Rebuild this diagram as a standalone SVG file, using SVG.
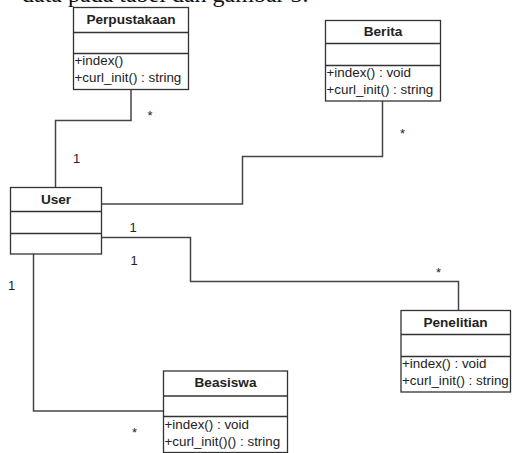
<svg xmlns="http://www.w3.org/2000/svg" width="512" height="453" viewBox="0 0 512 453">
<style>
.box{fill:#fff;stroke:#333;stroke-width:1.3}
.div{stroke:#333;stroke-width:1.3}
.title{font-family:"Liberation Sans",Arial,sans-serif;font-size:13.6px;font-weight:bold;fill:#222;text-anchor:middle}
.m{font-family:"Liberation Sans",Arial,sans-serif;font-size:13.4px;fill:#222}
.lbl{font-family:"Liberation Sans",Arial,sans-serif;font-size:13px;fill:#222;text-anchor:middle}
.conn{fill:none;stroke:#444;stroke-width:1.5}
.cap{font-family:"Liberation Serif","Times New Roman",serif;font-size:24px;fill:#111}
</style>
<rect width="512" height="453" fill="#fff"/>
<text class="cap" x="22" y="1.5">data pada tabel dan gambar 3.</text>
<g id="connectors">
<path class="conn" d="M131,89.5 V120.5 H55.5 V187.5"/>
<path class="conn" d="M382.5,101 V156.5 H242.5 V204 H101.5"/>
<path class="conn" d="M101.5,237.5 H190.5 V281.5 H458.5 V310.5"/>
<path class="conn" d="M33.5,254 V411 H163.5"/>
<text class="lbl" x="150" y="120">*</text>
<text class="lbl" x="76.5" y="163">1</text>
<text class="lbl" x="402.5" y="138">*</text>
<text class="lbl" x="133" y="231.5">1</text>
<text class="lbl" x="134" y="265">1</text>
<text class="lbl" x="438.5" y="276.5">*</text>
<text class="lbl" x="11.5" y="290">1</text>
<text class="lbl" x="134.5" y="437">*</text>
</g>
<g id="perpustakaan">
<rect class="box" x="73.5" y="7.5" width="115" height="82"/>
<line class="div" x1="73.5" y1="32.5" x2="188.5" y2="32.5"/>
<line class="div" x1="73.5" y1="53.5" x2="188.5" y2="53.5"/>
<text class="title" x="131" y="23.5">Perpustakaan</text>
<text class="m" x="74.5" y="65">+index()</text>
<text class="m" x="74.5" y="82">+curl_init() : string</text>
</g>
<g id="berita">
<rect class="box" x="325.5" y="20.5" width="115" height="80.5"/>
<line class="div" x1="325.5" y1="43.5" x2="440.5" y2="43.5"/>
<line class="div" x1="325.5" y1="65.5" x2="440.5" y2="65.5"/>
<text class="title" x="383" y="36">Berita</text>
<text class="m" x="326.5" y="77">+index() : void</text>
<text class="m" x="326.5" y="94">+curl_init() : string</text>
</g>
<g id="user">
<rect class="box" x="10.5" y="187.5" width="91" height="66.5"/>
<line class="div" x1="10.5" y1="211.5" x2="101.5" y2="211.5"/>
<line class="div" x1="10.5" y1="233.5" x2="101.5" y2="233.5"/>
<text class="title" x="56" y="203.5">User</text>
</g>
<g id="penelitian">
<rect class="box" x="401" y="310.5" width="109.5" height="81.5"/>
<line class="div" x1="401" y1="334.5" x2="510.5" y2="334.5"/>
<line class="div" x1="401" y1="356.5" x2="510.5" y2="356.5"/>
<text class="title" x="455.5" y="326.5">Penelitian</text>
<text class="m" x="402" y="368">+index() : void</text>
<text class="m" x="402" y="385">+curl_init() : string</text>
</g>
<g id="beasiswa">
<rect class="box" x="163.5" y="371" width="124" height="81.5"/>
<line class="div" x1="163.5" y1="396" x2="287.5" y2="396"/>
<line class="div" x1="163.5" y1="416.5" x2="287.5" y2="416.5"/>
<text class="title" x="225.5" y="387">Beasiswa</text>
<text class="m" x="164.5" y="429">+index() : void</text>
<text class="m" x="164.5" y="446">+curl_init()() : string</text>
</g>
</svg>
